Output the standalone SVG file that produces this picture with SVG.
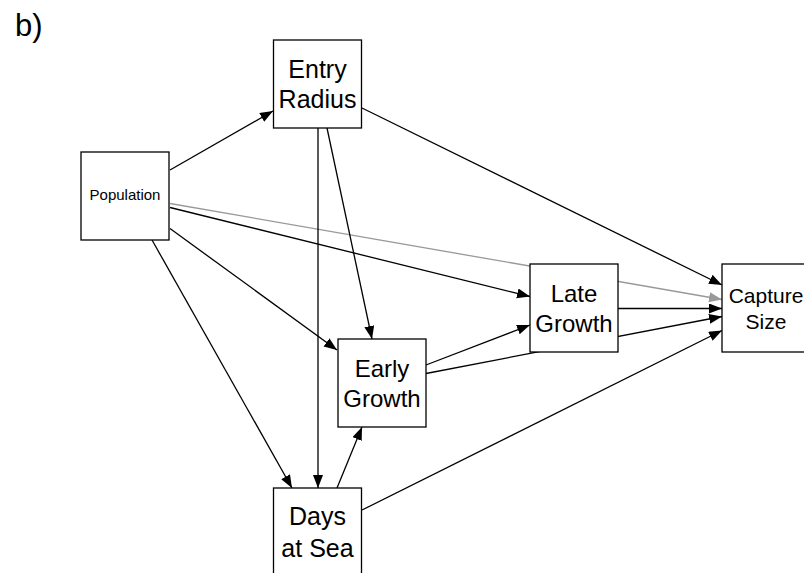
<svg xmlns="http://www.w3.org/2000/svg" width="804" height="573" viewBox="0 0 804 573">
<style>
.box{fill:#fff;stroke:#000;stroke-width:1.3}
.t{font-family:"Liberation Sans",Arial,sans-serif;fill:#000;text-anchor:middle}
.e{stroke:#000;stroke-width:1.3;fill:none;marker-end:url(#ah)}
.g{stroke:#999;stroke-width:1.3;fill:none;marker-end:url(#ahg)}
</style>
<defs>
<marker id="ah" markerUnits="userSpaceOnUse" markerWidth="14" markerHeight="11" refX="13" refY="5" orient="auto"><path d="M0,0 L13,5 L0,10 z" fill="#000"/></marker>
<marker id="ahg" markerUnits="userSpaceOnUse" markerWidth="14" markerHeight="11" refX="13" refY="5" orient="auto"><path d="M0,0 L13,5 L0,10 z" fill="#999"/></marker>
</defs>
<rect width="804" height="573" fill="#fff"/>
<text class="t" x="15" y="36" style="text-anchor:start;font-size:31px">b)</text>
<g id="connectors">
<line class="g" x1="170" y1="203.5" x2="722" y2="299.5"/>
<line class="e" x1="170" y1="170" x2="273" y2="111"/>
<line class="e" x1="170" y1="207.5" x2="530" y2="296.5"/>
<line class="e" x1="170" y1="228.5" x2="337" y2="350"/>
<line class="e" x1="152" y1="240" x2="292" y2="488"/>
<line class="e" x1="318" y1="128" x2="318" y2="488"/>
<line class="e" x1="327" y1="128" x2="372" y2="339"/>
<line class="e" x1="362" y1="108" x2="722" y2="285"/>
<line class="e" x1="426" y1="365" x2="530" y2="325"/>
<line class="e" x1="426" y1="373.5" x2="722" y2="316.5"/>
<line class="e" x1="618" y1="308.5" x2="722" y2="308.5"/>
<line class="e" x1="337" y1="488" x2="362" y2="427"/>
<line class="e" x1="362" y1="510" x2="722" y2="330.5"/>
</g>
<g id="population"><rect class="box" x="81" y="152" width="88" height="88"/><text class="t" x="125" y="199.5" font-size="15">Population</text></g>
<g id="entry-radius"><rect class="box" x="273.5" y="40" width="88" height="88"/><text class="t" x="317.5" y="78" font-size="25">Entry</text><text class="t" x="317.5" y="108" font-size="25">Radius</text></g>
<g id="late-growth"><rect class="box" x="530" y="264" width="88" height="88"/><text class="t" x="574" y="302" font-size="24">Late</text><text class="t" x="574" y="332" font-size="24">Growth</text></g>
<g id="early-growth"><rect class="box" x="338" y="339" width="88" height="88"/><text class="t" x="382" y="377" font-size="24">Early</text><text class="t" x="382" y="407" font-size="24">Growth</text></g>
<g id="capture-size"><rect class="box" x="722" y="264" width="88" height="88"/><text class="t" x="766" y="302.5" font-size="21">Capture</text><text class="t" x="766" y="328.5" font-size="21">Size</text></g>
<g id="days-at-sea"><rect class="box" x="273.5" y="488" width="88" height="88"/><text class="t" x="317.5" y="525" font-size="25">Days</text><text class="t" x="317.5" y="556.5" font-size="25">at Sea</text></g>
</svg>
